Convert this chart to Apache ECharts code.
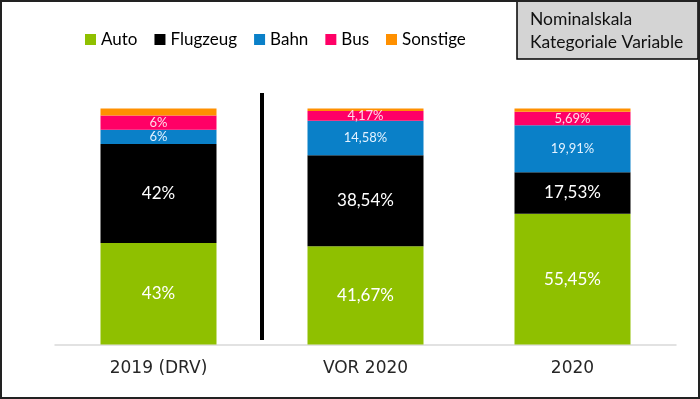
<!DOCTYPE html>
<html>
<head>
<meta charset="utf-8">
<script src="https://cdn.jsdelivr.net/npm/echarts@6/dist/echarts.min.js"></script>
<style>
  html, body { margin: 0; padding: 0; background: #fff; }
  #chart { width: 700px; height: 399px; }
</style>
</head>
<body>
<div id="chart"></div>
<script>
var categories = ['2019 (DRV)', 'VOR 2020', '2020'];
var auto_vals = [43, 41.67, 55.45];
var flugzeug_vals = [42, 38.54, 17.53];
var bahn_vals = [6, 14.58, 19.91];
var bus_vals = [6, 4.17, 5.69];
var sonstige_vals = [3, 1.04, 1.42];
var legend_names = ['Auto', 'Flugzeug', 'Bahn', 'Bus', 'Sonstige'];

var chart = echarts.init(document.getElementById('chart'));

function pct(p) {
  return String(p.value).replace('.', ',') + '%';
}

function makeSeries(name, data, color, labelSize, labelColor) {
  return {
    name: name,
    type: 'bar',
    stack: 'total',
    barWidth: 116,
    data: data,
    itemStyle: { color: color },
    label: {
      show: labelSize > 0,
      position: 'inside',
      formatter: pct,
      fontFamily: 'Lato',
      fontSize: labelSize,
      color: labelColor
    }
  };
}

var option = {
  backgroundColor: '#fff',
  animation: false,
  legend: {
    data: legend_names,
    left: 80,
    top: 26,
    icon: 'rect',
    itemWidth: 11,
    itemHeight: 11,
    itemGap: 17,
    textStyle: { fontFamily: 'Lato', fontSize: 17, color: '#000' }
  },
  grid: { left: 55, right: 24, top: 108.5, bottom: 54.5 },
  xAxis: {
    type: 'category',
    data: categories,
    axisLine: { lineStyle: { color: '#d9d9d9', width: 1.5 } },
    axisTick: { show: false },
    axisLabel: {
      margin: 16,
      fontFamily: 'DejaVu Sans',
      fontSize: 17,
      color: '#262626'
    }
  },
  yAxis: { type: 'value', min: 0, max: 100, show: false },
  series: [
    makeSeries('Auto', auto_vals, '#8fc000', 17, '#fff'),
    makeSeries('Flugzeug', flugzeug_vals, '#000000', 17, '#fff'),
    makeSeries('Bahn', bahn_vals, '#0a80c8', 13, '#e4f2ff'),
    makeSeries('Bus', bus_vals, '#ff0066', 13, '#ffdce9'),
    makeSeries('Sonstige', sonstige_vals, '#ff9000', 0, '#fff')
  ],
  graphic: [
    {
      type: 'line',
      shape: { x1: 262, y1: 93, x2: 262, y2: 340 },
      style: { stroke: '#000', lineWidth: 4 }
    },
    {
      type: 'rect',
      shape: { x: 517, y: 0, width: 181, height: 59 },
      style: { fill: '#d4d4d4', stroke: '#000', lineWidth: 1.5 }
    },
    {
      type: 'text',
      left: 530,
      top: 8,
      style: {
        text: 'Nominalskala\nKategoriale Variable',
        fontFamily: 'Lato',
        fontSize: 17.5,
        lineHeight: 23,
        fill: '#111'
      }
    },
    {
      type: 'rect',
      shape: { x: 1, y: 1, width: 698, height: 397 },
      style: { fill: 'none', stroke: '#222', lineWidth: 2 }
    }
  ]
};

chart.setOption(option);
</script>
</body>
</html>
